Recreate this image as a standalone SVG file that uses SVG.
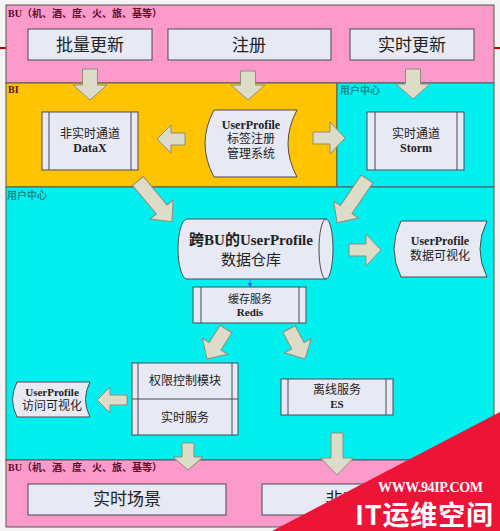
<svg xmlns="http://www.w3.org/2000/svg" width="500" height="531" viewBox="0 0 500 531">
<style>
.reg{stroke:#4e5a52;stroke-width:1}
.box{fill:#E7E9F5;stroke:#4a4a50;stroke-width:1}
.ln{stroke:#4a4a50;stroke-width:1;fill:none}
.arr{fill:#DCDCC8;stroke:#8E8E7A;stroke-width:1}
.lbl{font-family:"Liberation Serif","Noto Sans CJK SC",serif;font-size:10px;font-weight:bold;fill:#5a0a2a}
.lblc{font-family:"Noto Sans CJK SC",sans-serif;font-size:10px;font-weight:bold;fill:#1a8c8c}
.big{font-family:"Noto Sans CJK SC",sans-serif;font-size:17px;fill:#222;text-anchor:middle}
.t{font-family:"Liberation Serif","Noto Sans CJK SC",serif;font-size:12px;fill:#222;text-anchor:middle}
.tb{font-family:"Liberation Serif","Noto Sans CJK SC",serif;font-size:12px;font-weight:bold;fill:#222;text-anchor:middle}
.s{font-size:11px}
.h{font-size:15px}
</style>
<defs>
<marker id="mk" viewBox="0 0 6 6" refX="5" refY="3" markerWidth="5" markerHeight="5" orient="auto"><path d="M0,0 L6,3 L0,6 Z" fill="#3070D0"/></marker>
<clipPath id="visible"><polygon points="0,0 500,0 500,412 272,531 0,531"/></clipPath>
</defs>
<rect x="0" y="0" width="500" height="531" fill="#F4F4F4"/>
<line x1="0" y1="48" x2="6" y2="48" stroke="#C00000" stroke-width="2"/>
<line x1="494" y1="48" x2="500" y2="48" stroke="#C00000" stroke-width="2"/>
<g id="regions">
<rect class="reg" x="6" y="5" width="488" height="78" fill="#FB9ACB"/>
<rect class="reg" x="6" y="83" width="331" height="104" fill="#FFC300"/>
<rect class="reg" x="337" y="83" width="157" height="104" fill="#00F0F0"/>
<rect class="reg" x="6" y="187" width="488" height="273" fill="#00F0F0"/>
<rect class="reg" x="6" y="460" width="488" height="67" fill="#FB9ACB"/>
<text class="lbl" x="8" y="17">BU（机、酒、度、火、旅、基等）</text>
<text class="lbl" x="8" y="93">BI</text>
<text class="lblc" x="340" y="94">用户中心</text>
<text class="lblc" x="7" y="199">用户中心</text>
<text class="lbl" x="8" y="471">BU（机、酒、度、火、旅、基等）</text>
</g>
<g id="n-batch"><rect class="box" x="28" y="29" width="124" height="31"/><text class="big" x="90" y="51">批量更新</text></g>
<g id="n-reg"><rect class="box" x="168" y="29" width="163" height="31"/><text class="big" x="249" y="51">注册</text></g>
<g id="n-rt"><rect class="box" x="350" y="29" width="124" height="31"/><text class="big" x="412" y="51">实时更新</text></g>
<g id="n-datax"><rect class="box" x="42" y="112" width="96" height="58"/><path class="ln" d="M49,112V170M131,112V170"/><text class="t" x="90" y="138">非实时通道</text><text class="tb" x="90" y="152">DataX</text></g>
<g id="n-upreg"><path class="box" d="M214,110 H297 Q279,143.5 297,177 H214 Q196,143.5 214,110 Z"/><text class="tb" x="251" y="129">UserProfile</text><text class="t" x="251" y="143" font-size="13">标签注册</text><text class="t" x="251" y="158" font-size="13">管理系统</text></g>
<g id="n-storm"><rect class="box" x="367" y="112" width="97" height="58"/><path class="ln" d="M375,112V170M457,112V170"/><text class="t" x="416" y="138">实时通道</text><text class="tb" x="416" y="152">Storm</text></g>
<g id="n-dw"><path class="box" d="M187,219 H326 A7,30 0 0 1 326,279 H187 A9,30 0 0 1 187,219 Z"/><path class="ln" d="M326,219 A7,30 0 0 0 326,279"/><text class="tb h" x="251" y="245">跨BU的UserProfile</text><text class="t h" x="251" y="265">数据仓库</text></g>
<g id="n-vis"><path class="box" d="M401,221 H487 Q473,249 487,277 H401 Q387,249 401,221 Z"/><text class="tb" x="440" y="245">UserProfile</text><text class="t" x="440" y="260">数据可视化</text></g>
<g id="n-redis"><rect class="box" x="193" y="287" width="113" height="36"/><path class="ln" d="M201,287V323M299,287V323"/><text class="t s" x="250" y="303">缓存服务</text><text class="tb s" x="250" y="316">Redis</text></g>
<g id="n-auth"><rect class="box" x="132" y="363" width="106" height="72"/><path class="ln" d="M138,363V435M232,363V435M132,399H238"/><text class="t" x="185" y="385">权限控制模块</text><text class="t" x="185" y="422">实时服务</text></g>
<g id="n-avis"><path class="box" d="M17,382 H90 Q81,399.5 90,417 H17 Q8,399.5 17,382 Z"/><text class="tb s" x="52" y="396">UserProfile</text><text class="t" x="52" y="410">访问可视化</text></g>
<g id="n-es"><rect class="box" x="281" y="379" width="112" height="36"/><path class="ln" d="M288,379V415M386,379V415"/><text class="t" x="337" y="394">离线服务</text><text class="tb s" x="337" y="408">ES</text></g>
<g id="n-rtscene"><rect class="box" x="28" y="484" width="198" height="31"/><text class="big" x="127" y="505">实时场景</text></g>
<g id="n-offscene"><rect class="box" x="262" y="484" width="212" height="31"/><text class="big" x="368" y="505" clip-path="url(#visible)">非实时场景</text></g>
<g id="connectors">
<polygon class="arr" transform="translate(90,69) rotate(90)" points="0,-7.5 16,-7.5 16,-17 31,0 16,17 16,7.5 0,7.5"/>
<polygon class="arr" transform="translate(248,71) rotate(90)" points="0,-7.5 14,-7.5 14,-17 29,0 14,17 14,7.5 0,7.5"/>
<polygon class="arr" transform="translate(413,69) rotate(90)" points="0,-7.5 15,-7.5 15,-17 30,0 15,17 15,7.5 0,7.5"/>
<polygon class="arr" transform="translate(185,139) rotate(180)" points="0,-6 14,-6 14,-14 28,0 14,14 14,6 0,6"/>
<polygon class="arr" transform="translate(313,138) rotate(0)" points="0,-6 17,-6 17,-16 32,0 17,16 17,6 0,6"/>
<polygon class="arr" transform="translate(138,181) rotate(50.3)" points="0,-7 37,-7 37,-15 53,0 37,15 37,7 0,7"/>
<polygon class="arr" transform="translate(367,179) rotate(124.3)" points="0,-7 37,-7 37,-15 53,0 37,15 37,7 0,7"/>
<polygon class="arr" transform="translate(349,250) rotate(0)" points="0,-6 17,-6 17,-16 32,0 17,16 17,6 0,6"/>
<polygon class="arr" transform="translate(226,329) rotate(122.3)" points="0,-7 20.5,-7 20.5,-15 35.5,0 20.5,15 20.5,7 0,7"/>
<polygon class="arr" transform="translate(289,329) rotate(61.9)" points="0,-7 19,-7 19,-15 34,0 19,15 19,7 0,7"/>
<polygon class="arr" transform="translate(127,400) rotate(180)" points="0,-5 17,-5 17,-13 30,0 17,13 17,5 0,5"/>
<polygon class="arr" transform="translate(188,443) rotate(90)" points="0,-6 14,-6 14,-15 27,0 14,15 14,6 0,6"/>
<polygon class="arr" transform="translate(337,433) rotate(90)" points="0,-6 25,-6 25,-16.5 42,0 25,16.5 25,6 0,6"/>
<line x1="250" y1="280" x2="250" y2="287" stroke="#3070D0" stroke-width="1" marker-end="url(#mk)"/>
</g>
<g id="watermark">
<polygon points="272,531 500,412 500,531" fill="#EE1438"/>
<text x="378" y="492" font-family="Liberation Serif,serif" font-size="14" font-weight="bold" fill="#FFFFFF" textLength="105">WWW.94IP.COM</text>
<text x="355" y="525" font-family="Noto Sans CJK SC,sans-serif" font-size="27" font-weight="bold" fill="#FFFFFF" textLength="138" lengthAdjust="spacing">IT运维空间</text>
</g>
</svg>
